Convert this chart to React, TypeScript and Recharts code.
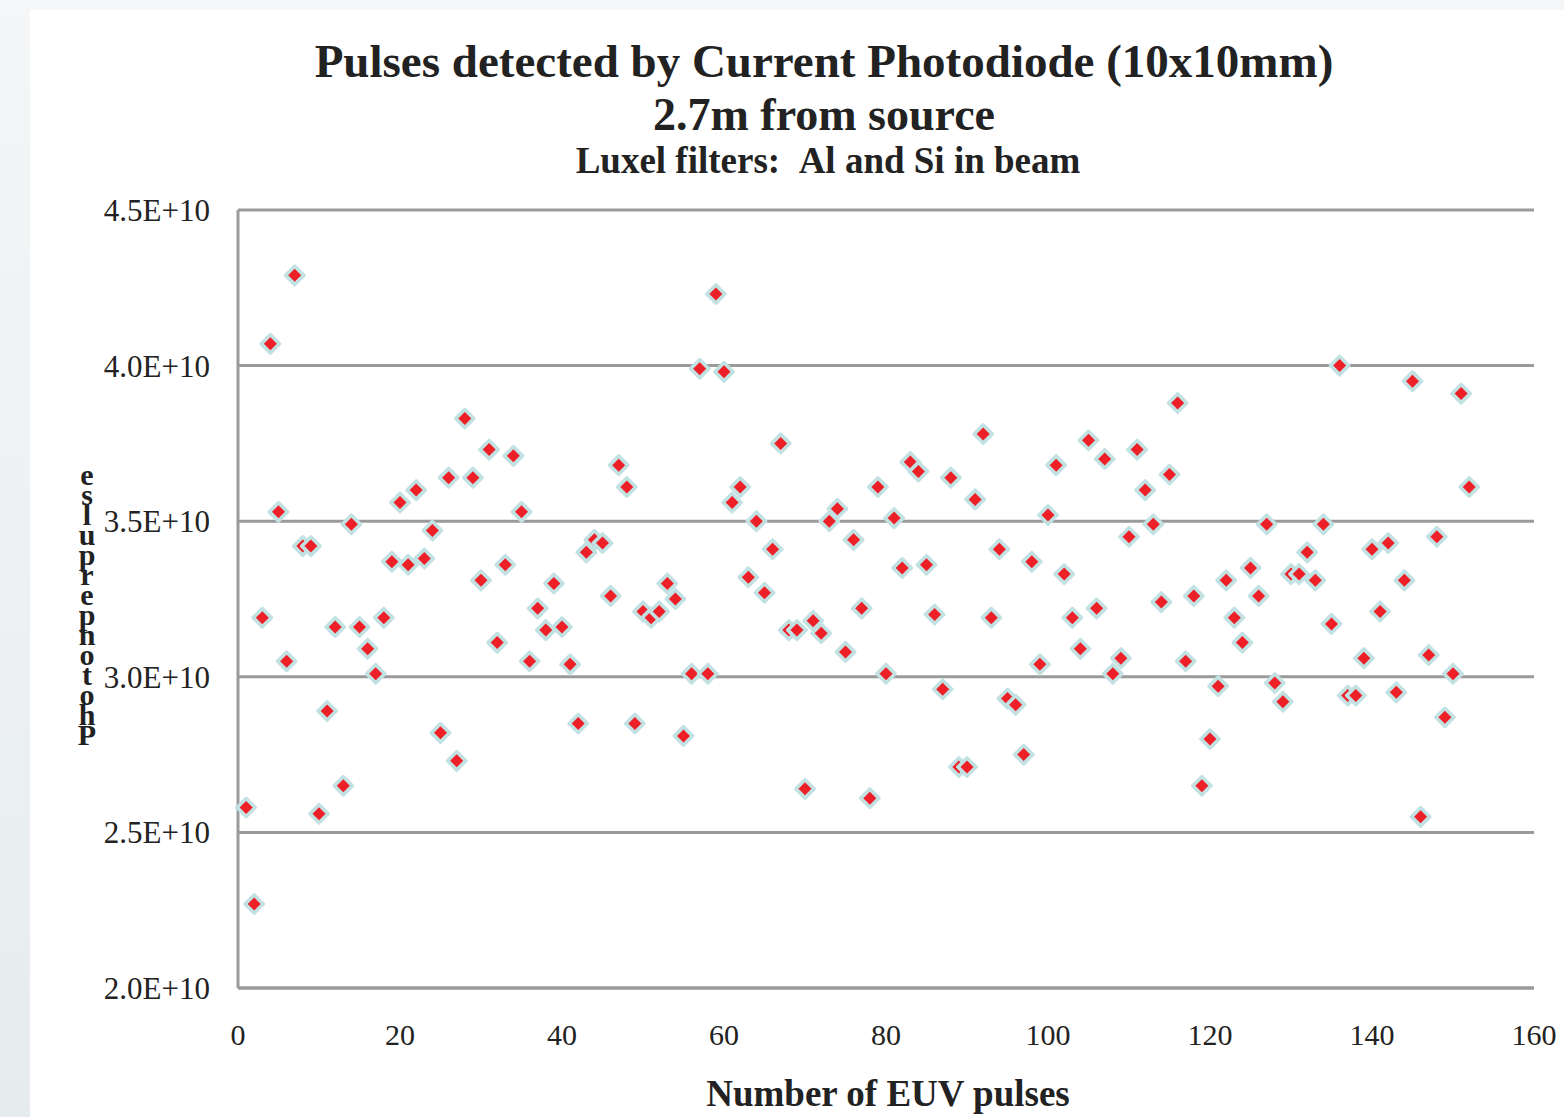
import React from 'react';
import {
  ScatterChart,
  Scatter,
  XAxis,
  YAxis,
  CartesianGrid,
} from 'recharts';

// photons per pulse, in units of 1E+10, pulse 1..152
const photons = [
  2.58, 2.27, 3.19, 4.07, 3.53, 3.05, 4.29, 3.42, 3.42, 2.56,
  2.89, 3.16, 2.65, 3.49, 3.16, 3.09, 3.01, 3.19, 3.37, 3.56,
  3.36, 3.6, 3.38, 3.47, 2.82, 3.64, 2.73, 3.83, 3.64, 3.31,
  3.73, 3.11, 3.36, 3.71, 3.53, 3.05, 3.22, 3.15, 3.3, 3.16,
  3.04, 2.85, 3.4, 3.44, 3.43, 3.26, 3.68, 3.61, 2.85, 3.21,
  3.19, 3.21, 3.3, 3.25, 2.81, 3.01, 3.99, 3.01, 4.23, 3.98,
  3.56, 3.61, 3.32, 3.5, 3.27, 3.41, 3.75, 3.15, 3.15, 2.64,
  3.18, 3.14, 3.5, 3.54, 3.08, 3.44, 3.22, 2.61, 3.61, 3.01,
  3.51, 3.35, 3.69, 3.66, 3.36, 3.2, 2.96, 3.64, 2.71, 2.71,
  3.57, 3.78, 3.19, 3.41, 2.93, 2.91, 2.75, 3.37, 3.04, 3.52,
  3.68, 3.33, 3.19, 3.09, 3.76, 3.22, 3.7, 3.01, 3.06, 3.45,
  3.73, 3.6, 3.49, 3.24, 3.65, 3.88, 3.05, 3.26, 2.65, 2.8,
  2.97, 3.31, 3.19, 3.11, 3.35, 3.26, 3.49, 2.98, 2.92, 3.33,
  3.33, 3.4, 3.31, 3.49, 3.17, 4.0, 2.94, 2.94, 3.06, 3.41,
  3.21, 3.43, 2.95, 3.31, 3.95, 2.55, 3.07, 3.45, 2.87, 3.01,
  3.91, 3.61,
];

const xTicks = [0, 20, 40, 60, 80, 100, 120, 140, 160];
const yTicks = [2.0, 2.5, 3.0, 3.5, 4.0, 4.5];

const titleLines = [
  'Pulses detected by Current Photodiode (10x10mm)',
  '2.7m from source',
  'Luxel filters:\u00a0\u00a0Al and Si in beam',
];
const xLabel = 'Number of EUV pulses';
const yLabel = 'Photonperpulse';

const data = photons.map((v, i) => ({ pulse: i + 1, photons: v }));

const serif = '"Liberation Serif", "Times New Roman", serif';
const grey = '#9a9a9a';

function Diamond(props: any) {
  const { cx, cy } = props;
  if (cx == null || cy == null) return null;
  const o = 9.5;
  const r = 6.5;
  return (
    <g>
      <path
        d={`M${cx} ${cy - o}L${cx + o} ${cy}L${cx} ${cy + o}L${cx - o} ${cy}Z`}
        fill="#c2e1e3"
        stroke="#c2e1e3"
        strokeWidth={3}
        strokeLinejoin="round"
      />
      <path
        d={`M${cx} ${cy - r}L${cx + r} ${cy}L${cx} ${cy + r}L${cx - r} ${cy}Z`}
        fill="#ed2027"
      />
    </g>
  );
}

export default function App() {
  // letters stack upright, read from the bottom up
  const stacked = yLabel.split('').reverse().join('');
  return (
    <div
      style={{
        position: 'absolute',
        left: 0,
        top: 0,
        width: 1564,
        height: 1117,
        background: 'linear-gradient(180deg, #f4f6f7 0%, #e6ecee 100%)',
        overflow: 'hidden',
      }}
    >
      <div
        style={{
          position: 'absolute',
          left: 30,
          top: 10,
          width: 1534,
          height: 1107,
          background: '#fff',
        }}
      />
      <div style={{ position: 'absolute', left: 0, top: 0 }}>
        <ScatterChart
          width={1564}
          height={1117}
          margin={{ top: 210, right: 30, left: 138, bottom: 69 }}
        >
          <CartesianGrid
            vertical={false}
            stroke={grey}
            strokeWidth={3}
          />
          <XAxis
            type="number"
            dataKey="pulse"
            domain={[0, 160]}
            ticks={xTicks}
            height={60}
            axisLine={{ stroke: grey, strokeWidth: 3 }}
            tickLine={false}
            tickSize={0}
            tickMargin={36}
            tick={{ fontSize: 30, fill: '#222', fontFamily: serif }}
          />
          <YAxis
            type="number"
            dataKey="photons"
            domain={[2, 4.5]}
            ticks={yTicks}
            width={100}
            axisLine={{ stroke: grey, strokeWidth: 3 }}
            tickLine={false}
            tickSize={0}
            tickMargin={28}
            tickFormatter={(v: number) => `${v.toFixed(1)}E+10`}
            tick={{ fontSize: 31, fill: '#222', fontFamily: serif }}
          />
          <Scatter
            data={data}
            shape={Diamond}
            isAnimationActive={false}
          />
        </ScatterChart>
      </div>
      <svg
        width={1564}
        height={1117}
        style={{ position: 'absolute', left: 0, top: 0, pointerEvents: 'none' }}
      >
        <g fontFamily={serif} fontWeight="bold" fill="#222" textAnchor="middle">
          <text x={824} y={77} fontSize={47}>{titleLines[0]}</text>
          <text x={824} y={130} fontSize={46}>{titleLines[1]}</text>
          <text x={828} y={173} fontSize={37}>{titleLines[2]}</text>
          <text x={888} y={1106} fontSize={37}>{xLabel}</text>
          <text
            x={87}
            y={598}
            fontSize={30}
            style={{
              writingMode: 'vertical-rl',
              textOrientation: 'upright',
              letterSpacing: -13,
            }}
          >
            {stacked}
          </text>
        </g>
      </svg>
    </div>
  );
}
